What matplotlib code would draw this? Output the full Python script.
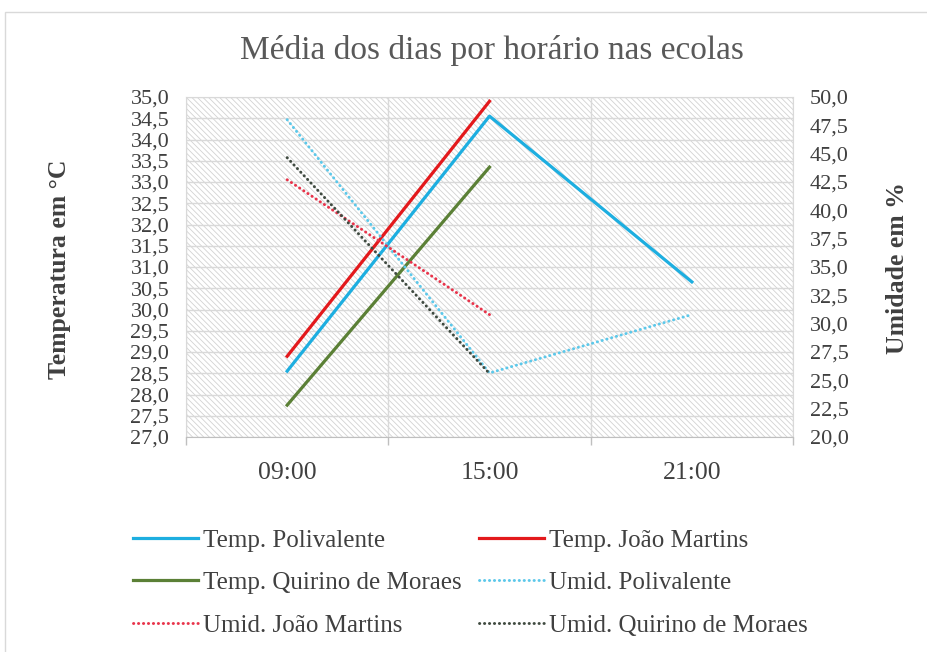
import matplotlib
matplotlib.use("Agg")
import matplotlib.pyplot as plt
from matplotlib.patches import Rectangle
from matplotlib.ticker import FixedLocator, FuncFormatter

plt.rcParams['font.family'] = ['Liberation Serif', 'DejaVu Serif']
plt.rcParams['hatch.linewidth'] = 0.6
plt.rcParams['hatch.color'] = '#d2d2d2'

hours = ["09:00", "15:00", "21:00"]
temp_polivalente = [28.55, 34.55, 30.65]
temp_joao = [28.9, 34.9]
temp_quirino = [27.75, 33.35]
umid_polivalente = [48.0, 25.65, 30.8]
umid_joao = [42.7, 30.8]
umid_quirino = [44.65, 25.6]

temp_ticks = [27 + 0.5 * i for i in range(17)]
umid_ticks = [20 + 2.5 * i for i in range(13)]

W, H = 927, 652
fig = plt.figure(figsize=(W / 100, H / 100), dpi=100)

# outer frame
fig.patches.append(Rectangle((5 / W, -0.05), 1.0, (H - 12) / H + 0.05,
                             transform=fig.transFigure, fill=False,
                             edgecolor='#d9d9d9', linewidth=1.0))

L, R, T, B = 186, 793, 97, 437
ax = fig.add_axes([L / W, 1 - B / H, (R - L) / W, (B - T) / H])
ax.set_facecolor('white')
ax.add_patch(Rectangle((0, 0), 1, 1, transform=ax.transAxes, facecolor='white',
                       hatch='\\\\\\\\\\\\', edgecolor='#d2d2d2', linewidth=0, zorder=0))

xpos = [0.5 + i for i in range(len(hours))]
ax.set_xlim(0, 3)
ax.set_ylim(27, 35)

grid_c = '#d9d9d9'
for s in ax.spines.values():
    s.set_color(grid_c)
ax.spines['bottom'].set_color('#bfbfbf')

fmt = FuncFormatter(lambda v, p: f"{v:.1f}".replace('.', ','))
ax.yaxis.set_major_locator(FixedLocator(temp_ticks))
ax.yaxis.set_major_formatter(fmt)
ax.grid(axis='y', color=grid_c, linewidth=1.0, zorder=1)
ax.set_axisbelow(True)

ax.set_xticks(xpos)
ax.set_xticklabels(hours)
ax.set_xticks([0, 1, 2, 3], minor=True)
ax.tick_params(axis='x', which='major', length=0, pad=18, labelsize=18.5, labelcolor='#404040')
ax.tick_params(axis='x', which='minor', length=6, color='#bfbfbf', width=1)
ax.grid(axis='x', which='minor', color=grid_c, linewidth=1.0)
ax.tick_params(axis='y', length=0, pad=12, labelsize=16, labelcolor='#404040')

ax2 = ax.twinx()
ax2.set_ylim(20, 50)
ax2.yaxis.set_major_locator(FixedLocator(umid_ticks))
ax2.yaxis.set_major_formatter(fmt)
ax2.tick_params(axis='y', length=0, pad=12, labelsize=16, labelcolor='#404040')
for s in ax2.spines.values():
    s.set_visible(False)

lw = 2.3
c_tp, c_tj, c_tq = '#1daee0', '#e3191c', '#5b8036'
c_up, c_uj, c_uq = '#5cc8ea', '#e8334a', '#3f4a40'
dot = (0, (0.1, 1.6))
dlw = 2.1

la, = ax.plot(xpos[:len(temp_polivalente)], temp_polivalente, color=c_tp, lw=lw, zorder=3)
lb, = ax.plot(xpos[:len(temp_joao)], temp_joao, color=c_tj, lw=lw, zorder=3)
lc, = ax.plot(xpos[:len(temp_quirino)], temp_quirino, color=c_tq, lw=lw, zorder=3)
ld, = ax2.plot(xpos[:len(umid_polivalente)], umid_polivalente, color=c_up, lw=dlw,
               linestyle=dot, dash_capstyle='round')
le, = ax2.plot(xpos[:len(umid_joao)], umid_joao, color=c_uj, lw=dlw,
               linestyle=dot, dash_capstyle='round')
lf, = ax2.plot(xpos[:len(umid_quirino)], umid_quirino, color=c_uq, lw=dlw,
               linestyle=dot, dash_capstyle='round')

labels = ["Temp. Polivalente", "Temp. João Martins", "Temp. Quirino de Moraes",
          "Umid. Polivalente", "Umid. João Martins", "Umid. Quirino de Moraes"]
handles = [la, lb, lc, ld, le, lf]
order = [0, 2, 4, 1, 3, 5]
fig.legend([handles[i] for i in order], [labels[i] for i in order], ncol=2,
           loc='upper left', bbox_to_anchor=(133 / W, 1 - 529 / H), frameon=False,
           borderaxespad=0, borderpad=0,
           fontsize=18, handlelength=2.6, handletextpad=0.2, columnspacing=0.7,
           labelspacing=0.8, labelcolor='#404040')

fig.text((L + R) / 2 / W + 2 / W, 1 - 51 / H, "Média dos dias por horário nas ecolas",
         ha='center', va='center', fontsize=24, color='#595959')
fig.text(60 / W, 1 - 269 / H, "Temperatura em °C", rotation=90, ha='center', va='center',
         fontsize=18.5, fontweight='bold', color='#404040')
fig.text(897 / W, 1 - 268 / H, "Umidade em %", rotation=90, ha='center', va='center',
         fontsize=18.5, fontweight='bold', color='#404040')

fig.savefig("out.png", dpi=100)
